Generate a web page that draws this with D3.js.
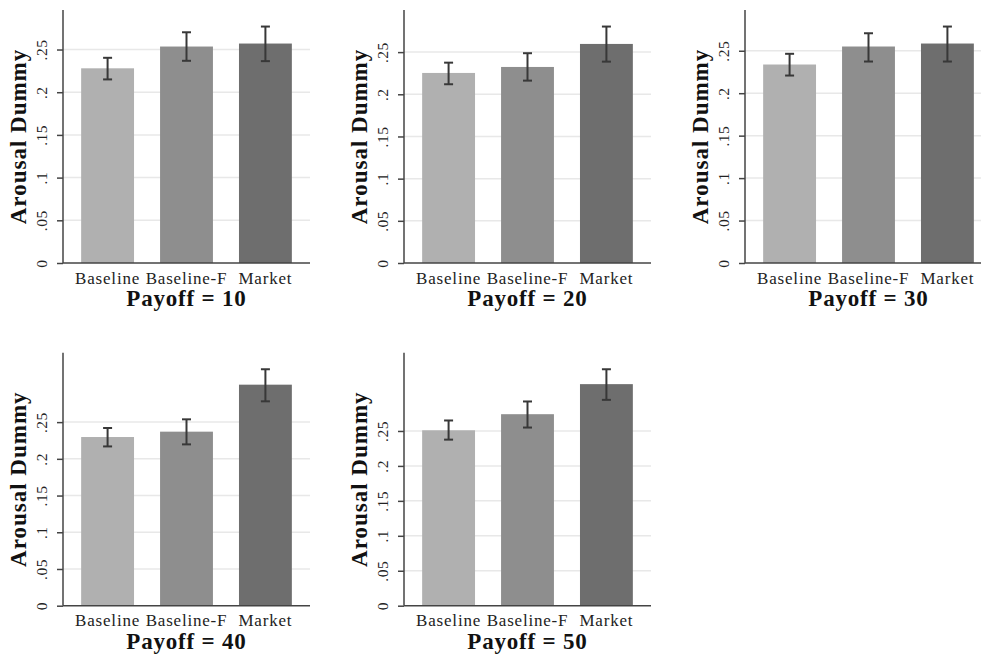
<!DOCTYPE html>
<html>
<head>
<meta charset="utf-8">
<script src="https://cdn.jsdelivr.net/npm/d3@7"></script>
<style>
  body { margin: 0; background: #fff; }
  text { font-family: "Liberation Serif", "Times New Roman", serif; }
</style>
</head>
<body>
<svg id="chart" width="981" height="656"></svg>
<script>
const groups = ['Baseline', 'Baseline-F', 'Market'];
const payoffs = [10, 20, 30, 40, 50];
const means = [
    [0.228, 0.2535, 0.257],
    [0.2253, 0.2324, 0.2597],
    [0.2338, 0.255, 0.2585],
    [0.2297, 0.237, 0.301],
    [0.251, 0.274, 0.317]
];
const ciLow = [
    [0.215, 0.2368, 0.2364],
    [0.2119, 0.2162, 0.2387],
    [0.2208, 0.2373, 0.2373],
    [0.2169, 0.2197, 0.2783],
    [0.2376, 0.2549, 0.2945]
];
const ciHigh = [
    [0.2403, 0.2702, 0.2769],
    [0.2375, 0.2487, 0.2803],
    [0.2464, 0.2706, 0.2785],
    [0.242, 0.2538, 0.322],
    [0.265, 0.2922, 0.3383]
];
const tickValues = [0, 0.05, 0.1, 0.15, 0.2, 0.25];
const tickLabels = ['0', '.05', '.1', '.15', '.2', '.25'];
const barColors = ['#b0b0b0', '#8e8e8e', '#6e6e6e'];

const svg = d3.select('#chart');
const plotW = 247;
const plotH = 253;

payoffs.forEach((p, i) => {
    const col = i % 3;
    const row = Math.floor(i / 3);
    const left = 63 + col * 341;
    const top = 10 + row * 342.7;

    const x = d3.scaleBand()
        .domain(groups)
        .range([0, plotW])
        .paddingInner(0.33)
        .paddingOuter(0.23);

    const y = d3.scaleLinear()
        .domain([0, d3.max(ciHigh[i]) * 1.07])
        .range([plotH, 0]);

    const g = svg.append('g')
        .attr('transform', `translate(${left},${top})`);

    // gridlines
    g.selectAll('.grid')
        .data(tickValues.slice(1))
        .enter().append('line')
        .attr('x1', 0)
        .attr('x2', plotW)
        .attr('y1', d => y(d))
        .attr('y2', d => y(d))
        .attr('stroke', '#e8e8e8')
        .attr('stroke-width', 1.5);

    // bars
    g.selectAll('.bar')
        .data(groups)
        .enter().append('rect')
        .attr('x', d => x(d))
        .attr('width', x.bandwidth())
        .attr('y', (d, j) => y(means[i][j]))
        .attr('height', (d, j) => plotH - y(means[i][j]))
        .attr('fill', (d, j) => barColors[j]);

    // error bars
    const err = g.selectAll('.err')
        .data(groups)
        .enter().append('g')
        .attr('stroke', '#383838')
        .attr('stroke-width', 2);
    err.append('line')
        .attr('x1', d => x(d) + x.bandwidth() / 2)
        .attr('x2', d => x(d) + x.bandwidth() / 2)
        .attr('y1', (d, j) => y(ciLow[i][j]))
        .attr('y2', (d, j) => y(ciHigh[i][j]));
    [ciLow, ciHigh].forEach(arr => {
        err.append('line')
            .attr('x1', d => x(d) + x.bandwidth() / 2 - 4.5)
            .attr('x2', d => x(d) + x.bandwidth() / 2 + 4.5)
            .attr('y1', (d, j) => y(arr[i][j]))
            .attr('y2', (d, j) => y(arr[i][j]));
    });

    // y axis
    const yAxis = g.append('g')
        .call(d3.axisLeft(y)
            .tickValues(tickValues)
            .tickFormat((d, k) => tickLabels[k])
            .tickSize(6)
            .tickSizeOuter(0));
    yAxis.select('.domain').remove();
    yAxis.selectAll('.tick line').attr('stroke', '#444').attr('stroke-width', 1.5);
    yAxis.selectAll('text')
        .attr('x', 0)
        .attr('y', -16)
        .attr('dy', 0)
        .attr('transform', 'rotate(-90)')
        .attr('text-anchor', 'middle')
        .attr('font-family', '"Liberation Serif", serif')
        .attr('font-size', 15.5)
        .attr('letter-spacing', 0.5)
        .attr('fill', '#222');

    g.append('line')
        .attr('x1', 0).attr('x2', 0)
        .attr('y1', 0).attr('y2', plotH)
        .attr('stroke', '#444').attr('stroke-width', 1.5);
    g.append('line')
        .attr('x1', 0).attr('x2', plotW)
        .attr('y1', plotH).attr('y2', plotH)
        .attr('stroke', '#444').attr('stroke-width', 1.5);

    // x labels
    g.selectAll('.xlab')
        .data(groups)
        .enter().append('text')
        .attr('x', d => x(d) + x.bandwidth() / 2)
        .attr('y', plotH + 20.5)
        .attr('text-anchor', 'middle')
        .attr('font-size', 17)
        .attr('letter-spacing', 0.8)
        .attr('fill', '#222')
        .text(d => d);

    g.append('text')
        .attr('x', plotW / 2)
        .attr('y', plotH + 43)
        .attr('text-anchor', 'middle')
        .attr('font-size', 23)
        .attr('font-weight', 'bold')
        .attr('letter-spacing', 0.8)
        .attr('fill', '#111')
        .text(`Payoff = ${p}`);

    g.append('text')
        .attr('transform', `translate(-37,${plotH / 2}) rotate(-90)`)
        .attr('text-anchor', 'middle')
        .attr('font-size', 23)
        .attr('font-weight', 'bold')
        .attr('letter-spacing', 1)
        .attr('fill', '#111')
        .text('Arousal Dummy');
});
</script>
</body>
</html>
